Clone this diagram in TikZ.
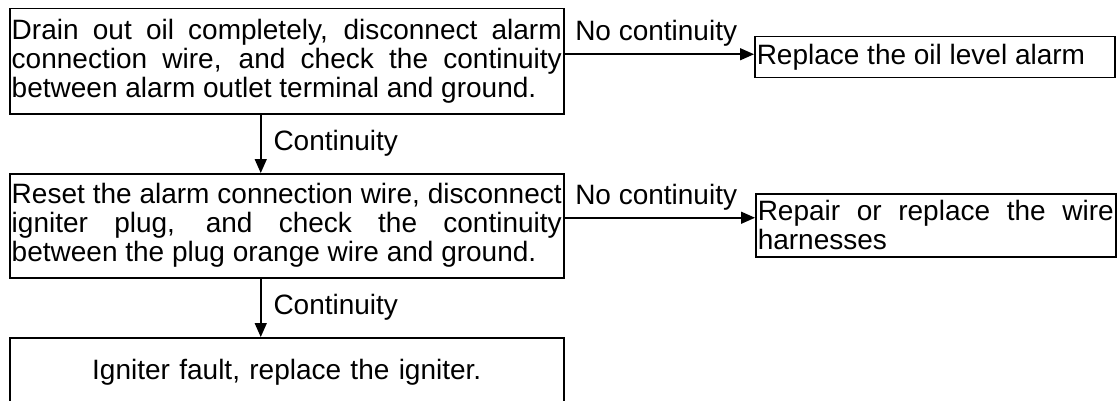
\documentclass[tikz,border=0pt]{standalone}
\usepackage{fontspec}
\setmainfont{Liberation Sans}
\usetikzlibrary{arrows.meta}

\begin{document}
\begin{tikzpicture}[x=1pt, y=1pt,
  every node/.style={font=\fontsize{28}{29}\selectfont},
  box/.style={draw, line width=1.5pt, inner xsep=2pt, inner ysep=0pt, align=justify, anchor=north west},
  arr/.style={line width=1.5pt, -{Triangle[length=14pt,width=12pt]}},
  lbl/.style={inner sep=0pt}]
\useasboundingbox (0,0) rectangle (1120,400);

\node[box, text width=550pt, minimum height=105pt] (drain) at (9,392)
  {Drain out oil completely, disconnect alarm\linebreak connection wire, and check the continuity\linebreak between alarm outlet terminal and ground.};
\node[box, text width=356pt, minimum height=41pt] (alarm) at (754,364)
  {Replace the oil level alarm};
\node[box, text width=550pt, minimum height=104pt] (reset) at (9,227)
  {Reset the alarm connection wire, disconnect\linebreak igniter plug, and check the continuity\linebreak between the plug orange wire and ground.};
\node[box, text width=356pt, minimum height=63pt] (harness) at (755,207)
  {Repair or replace the wire\linebreak harnesses};
\node[box, text width=550pt, minimum height=70pt, align=center] (igniter) at (9,63)
  {Igniter fault, replace the igniter.};

\draw[arr] ([yshift=7pt]drain.east) -- ([yshift=7pt]drain.east -| alarm.west)
  node[lbl, pos=0, anchor=base west, xshift=10pt, yshift=14pt] (nocont1) {No continuity};
\draw[arr] ([yshift=8pt]reset.east) -- ([yshift=8pt]reset.east -| harness.west)
  node[lbl, pos=0, anchor=base west, xshift=10pt, yshift=13pt] (nocont2) {No continuity};
\draw[arr] ([xshift=-26pt]drain.south) -- ([xshift=-26pt]reset.north)
  node[lbl, midway, anchor=west, xshift=12pt] (cont1) {Continuity};
\draw[arr] ([xshift=-26pt]reset.south) -- ([xshift=-26pt]igniter.north)
  node[lbl, midway, anchor=west, xshift=12pt] (cont2) {Continuity};
\end{tikzpicture}
\end{document}
